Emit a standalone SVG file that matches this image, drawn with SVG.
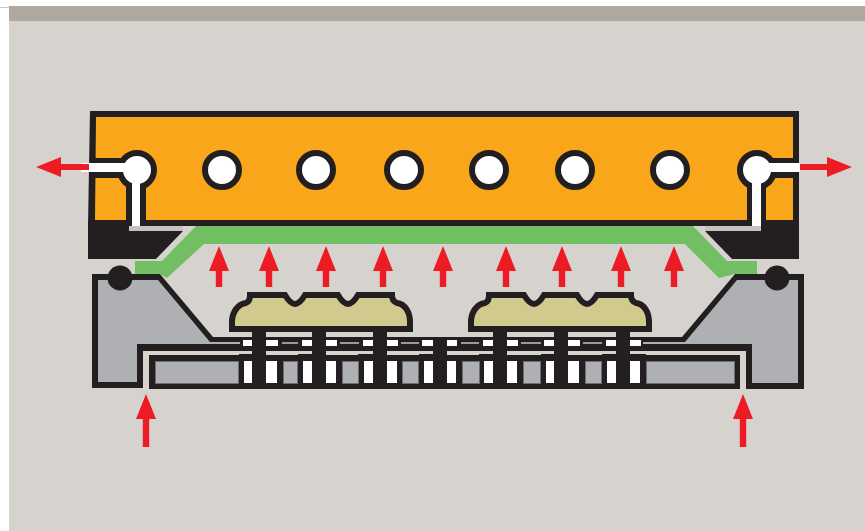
<svg xmlns="http://www.w3.org/2000/svg" width="865" height="531" viewBox="0 0 865 531">
<style>
.k{fill:#231f20}.w{fill:#fff}.g{fill:#afb0b3}.gw{fill:#afb0b3;stroke:#6d6e71;stroke-width:1}
.r{fill:#ed1c24}.hole{fill:#fff;stroke:#231f20;stroke-width:6}
.cap{fill:#d1c98d;stroke:#231f20;stroke-width:6;stroke-linejoin:miter}
.bg{fill:#d6d2ce}.thin{fill:#98989a}
</style>
<defs>
<path id="up" d="M0,0 L10,25 L3.200,25 L3.200,41 L-3.200,41 L-3.200,25 L-10,25 Z"/>
<path id="upl" d="M0,0 L10,25 L3.200,25 L3.200,53 L-3.200,53 L-3.200,25 L-10,25 Z"/>
<path id="cap" d="M232,329 L232,322 C232,312 238,304 246,303 C249,302 250,299 250,295 L285,295 C288,300 291,304 295,304 C299,304 302,300 305,295 L338,295 C341,300 344,304 348,304 C352,304 355,300 358,295 L392,295 C392,299 394,302 397,303 C405,304 410,312 410,322 L410,329 Z"/>
</defs>
<rect width="865" height="531" fill="#fff"/>
<rect x="0" y="7" width="9" height="1" fill="#c8c8c8"/>
<rect class="bg" x="9" y="6" width="856" height="525"/>
<rect x="9" y="6" width="856" height="15" fill="#b0a89e"/>

<g id="seal">
<path fill="#72bf63" d="M135,261 L162,261 L196,226 L693,226 L727,261 L757,261 L757,274 L735,274 L719,278 L685,244 L204,244 L167,278 L160,274 L135,274 Z"/>
</g>

<g id="manifold">
<path class="k" d="M90,111 L799,111 L799,226 L88,226 Z"/>
<path fill="#f9a61a" d="M96,117 L793,117 L793,220 L95,220 Z"/>
<path class="k" d="M88,222 L129,222 L129,231 L183,231 L156,259 L88,259 Z"/>
<path class="k" d="M761,222 L799,222 L799,259 L732,259 L705,231 L761,231 Z"/>
<rect x="129" y="226" width="54" height="5" fill="#c6c2bd"/>
<rect x="705" y="226" width="56" height="5" fill="#c6c2bd"/>
<rect class="k" x="94" y="158" width="42" height="20"/>
<rect class="k" x="126" y="170" width="20" height="56"/>
<rect class="k" x="757" y="158" width="38" height="20"/>
<rect class="k" x="747" y="170" width="19" height="56"/>
<circle class="hole" cx="137" cy="170" r="17"/>
<circle class="hole" cx="222" cy="170" r="17"/>
<circle class="hole" cx="316" cy="170" r="17"/>
<circle class="hole" cx="404" cy="170" r="17"/>
<circle class="hole" cx="489" cy="170" r="17"/>
<circle class="hole" cx="575" cy="170" r="17"/>
<circle class="hole" cx="670" cy="170" r="17"/>
<circle class="hole" cx="757" cy="170" r="17"/>
<rect class="w" x="81" y="163" width="56" height="9"/>
<rect class="w" x="132" y="170" width="8" height="56"/>
<rect class="w" x="757" y="163" width="43" height="9"/>
<rect class="w" x="752" y="170" width="9" height="56"/>
</g>

<g id="body">
<path class="k" d="M92,274 L160,274 L213,337 L682,337 L735,274 L804,274 L804,389 L746,389 L746,351 L143,351 L143,388 L92,388 Z"/>
<path class="g" d="M98,280 L158,280 L210,342 L240,342 L240,344 L137,344 L137,382 L98,382 Z"/>
<path class="g" d="M798,280 L737,280 L685,342 L643,342 L643,344 L752,344 L752,383 L798,383 Z"/>
<circle class="k" cx="120" cy="278" r="12.500"/>
<circle class="k" cx="777" cy="278" r="12.500"/>
<rect class="k" x="149" y="355" width="591" height="34"/>
<rect class="k" x="239" y="354" width="13" height="2"/>
<rect class="k" x="298" y="354" width="14" height="2"/>
<rect class="k" x="358" y="354" width="15" height="2"/>
<rect class="k" x="419" y="354" width="28" height="2"/>
<rect class="k" x="479" y="354" width="14" height="2"/>
<rect class="k" x="541" y="354" width="13" height="2"/>
<rect class="k" x="602" y="354" width="14" height="2"/>
<rect class="k" x="630" y="354" width="16" height="2"/>
</g>

<g id="lower-windows">
<rect class="gw" x="155.500" y="361.500" width="83" height="22"/>
<rect class="gw" x="283.500" y="361.500" width="14" height="22"/>
<rect class="gw" x="342.500" y="361.500" width="16" height="22"/>
<rect class="gw" x="402.500" y="361.500" width="16" height="22"/>
<rect class="gw" x="462.500" y="361.500" width="17" height="22"/>
<rect class="gw" x="523.500" y="361.500" width="17" height="22"/>
<rect class="gw" x="585.500" y="361.500" width="16" height="22"/>
<rect class="gw" x="646.500" y="361.500" width="88" height="22"/>
<rect class="w" x="244" y="361" width="8" height="22"/>
<rect class="w" x="266" y="361" width="11" height="22"/>
<rect class="w" x="303" y="361" width="9" height="22"/>
<rect class="w" x="326" y="361" width="10" height="22"/>
<rect class="w" x="364" y="361" width="9" height="22"/>
<rect class="w" x="387" y="361" width="10" height="22"/>
<rect class="w" x="424" y="361" width="9" height="22"/>
<rect class="w" x="447" y="361" width="9" height="22"/>
<rect class="w" x="484" y="361" width="9" height="22"/>
<rect class="w" x="507" y="361" width="10" height="22"/>
<rect class="w" x="546" y="361" width="8" height="22"/>
<rect class="w" x="568" y="361" width="11" height="22"/>
<rect class="w" x="607" y="361" width="9" height="22"/>
<rect class="w" x="630" y="361" width="10" height="22"/>
</g>

<g id="band-slots">
<rect class="w" x="243" y="340" width="9" height="6"/>
<rect class="w" x="266" y="340" width="12" height="6"/>
<rect class="w" x="302" y="340" width="10" height="6"/>
<rect class="w" x="326" y="340" width="11" height="6"/>
<rect class="w" x="363" y="340" width="10" height="6"/>
<rect class="w" x="387" y="340" width="11" height="6"/>
<rect class="w" x="422" y="340" width="11" height="6"/>
<rect class="w" x="447" y="340" width="10" height="6"/>
<rect class="w" x="483" y="340" width="10" height="6"/>
<rect class="w" x="507" y="340" width="11" height="6"/>
<rect class="w" x="544" y="340" width="10" height="6"/>
<rect class="w" x="568" y="340" width="12" height="6"/>
<rect class="w" x="606" y="340" width="10" height="6"/>
<rect class="w" x="630" y="340" width="11" height="6"/>
<rect class="thin" x="282" y="342" width="16" height="2"/>
<rect class="thin" x="340" y="342" width="19" height="2"/>
<rect class="thin" x="401" y="342" width="18" height="2"/>
<rect class="thin" x="461" y="342" width="18" height="2"/>
<rect class="thin" x="521" y="342" width="20" height="2"/>
<rect class="thin" x="583" y="342" width="19" height="2"/>
</g>

<g id="posts">
<rect class="k" x="252" y="330" width="14" height="59"/>
<rect class="k" x="312" y="330" width="14" height="59"/>
<rect class="k" x="373" y="330" width="14" height="59"/>
<rect class="k" x="433" y="340" width="14" height="49"/>
<rect class="k" x="493" y="330" width="14" height="59"/>
<rect class="k" x="554" y="330" width="14" height="59"/>
<rect class="k" x="616" y="330" width="14" height="59"/>
</g>

<g id="cap-left"><use href="#cap" class="cap"/></g>
<g id="cap-right"><use href="#cap" class="cap" x="239"/></g>

<g id="arrows" class="r">
<use href="#up" x="219" y="246"/>
<use href="#up" x="269" y="246"/>
<use href="#up" x="326" y="246"/>
<use href="#up" x="383" y="246"/>
<use href="#up" x="443" y="246"/>
<use href="#up" x="506" y="246"/>
<use href="#up" x="562" y="246"/>
<use href="#up" x="621" y="246"/>
<use href="#up" x="674" y="246"/>
<use href="#upl" x="146" y="394"/>
<use href="#upl" x="743" y="394"/>
<path d="M36,167 L61,157 L61,164 L89,164 L89,170 L61,170 L61,177 Z"/>
<path d="M852,167 L827,157 L827,164 L800,164 L800,170 L827,170 L827,177 Z"/>
</g>
</svg>
